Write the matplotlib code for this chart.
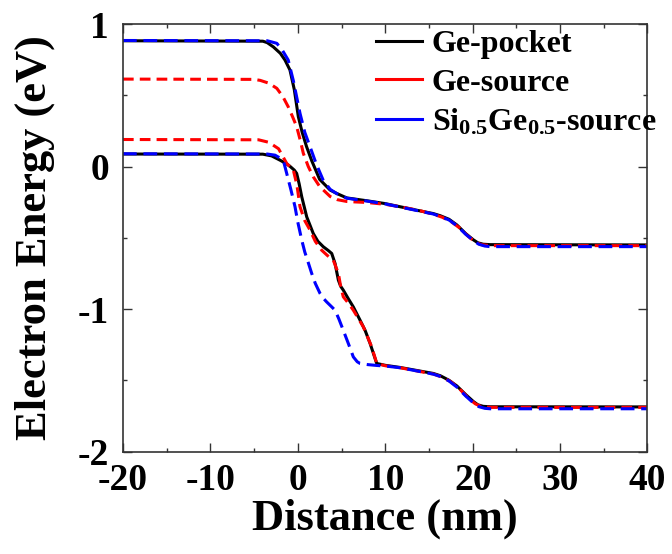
import matplotlib
matplotlib.use('Agg')
import matplotlib.pyplot as plt
from matplotlib.lines import Line2D
from matplotlib.ticker import MultipleLocator

plt.rcParams['font.family'] = ['Liberation Serif', 'DejaVu Serif']
plt.rcParams['font.weight'] = 'bold'
plt.rcParams['mathtext.fontset'] = 'custom'
plt.rcParams['mathtext.bf'] = 'Liberation Serif:bold'
plt.rcParams['mathtext.rm'] = 'Liberation Serif:bold'
plt.rcParams['mathtext.default'] = 'bf'
plt.rcParams['axes.unicode_minus'] = False

# conduction band edges (upper curves)
ec_pocket_x = [-20, -4, -3.5, -2.8, -2, -1.47, -0.9, -0.4, 0.06, 0.5, 1.0, 1.6, 2.5, 3.7, 4.5, 5.6, 7.9,
               10, 11.7, 13.5, 15.5, 16.3, 17.3, 18.2, 19.2, 20.1, 20.6, 21.2, 22, 40]
ec_pocket_y = [0.883, 0.88, 0.87, 0.84, 0.795, 0.748, 0.678, 0.54, 0.35, 0.24, 0.14, 0.04, -0.09, -0.165,
               -0.19, -0.22, -0.24, -0.26, -0.282, -0.305, -0.33, -0.345, -0.37, -0.41, -0.47, -0.515,
               -0.535, -0.545, -0.548, -0.55]

ec_gesrc_x = [-20, -5, -4.3, -3.3, -2.4, -1.7, -1.1, -0.6, -0.13, 0.3, 0.63, 1.2, 1.77, 2.5, 3.7, 4.5,
              5.6, 6.5, 7.9, 10, 12, 14, 15.5, 16.5, 17.5, 18.5, 19.5, 20.3, 21, 22, 40]
ec_gesrc_y = [0.614, 0.612, 0.605, 0.585, 0.549, 0.49, 0.42, 0.35, 0.28, 0.18, 0.093, 0.0, -0.072,
              -0.14, -0.21, -0.232, -0.245, -0.248, -0.252, -0.265, -0.285, -0.31, -0.335, -0.355,
              -0.385, -0.43, -0.49, -0.53, -0.548, -0.555, -0.555]

ec_sige_x = [-20, -3.5, -3.0, -2.4, -1.8, -1.1, -0.5, 0.25, 0.8, 1.4, 2.1, 2.9, 3.7, 4.45, 5.6, 7.9,
             10, 11.7, 13.5, 15.5, 16.3, 17.3, 18.2, 19.2, 20.1, 20.7, 21.4, 22, 40]
ec_sige_y = [0.885, 0.883, 0.875, 0.865, 0.82, 0.748, 0.6, 0.374, 0.24, 0.139, 0.02, -0.095, -0.16,
             -0.19, -0.222, -0.242, -0.262, -0.284, -0.307, -0.333, -0.35, -0.375, -0.415, -0.475,
             -0.52, -0.545, -0.558, -0.562, -0.562]

# valence band edges (lower curves)
ev_pocket_x = [-20, -4, -3, -2.04, -1.3, -0.9, -0.4, -0.13, 0.15, 0.45, 1.02, 1.77, 2.3, 2.92, 3.5,
               3.88, 4.26, 4.64, 4.9, 5.2, 5.8, 6.35, 7.12, 7.7, 8.26, 9.03, 10, 11.7, 13.5, 15.5,
               16.3, 17.3, 18.2, 19.2, 20.1, 20.6, 21.2, 22, 40]
ev_pocket_y = [0.088, 0.087, 0.075, 0.045, 0.02, 0.002, -0.025, -0.048, -0.12, -0.212, -0.353, -0.47,
               -0.525, -0.563, -0.59, -0.61, -0.68, -0.797, -0.84, -0.867, -0.93, -0.985, -1.078,
               -1.15, -1.24, -1.382, -1.395, -1.41, -1.43, -1.452, -1.468, -1.5, -1.54, -1.6, -1.65,
               -1.672, -1.683, -1.686, -1.687]

ev_gesrc_x = [-20, -4.5, -3.3, -2.2, -1.27, -0.51, -0.1, 0.25, 0.8, 1.4, 2.0, 2.73, 3.4, 4.06,
              4.64, 4.9, 5.2, 5.8, 6.35, 7.5, 8.45, 9.03, 10, 11.7, 13.5, 15.5, 16.5, 17.5,
              18.5, 19.5, 20.3, 21, 22, 40]
ev_gesrc_y = [0.19, 0.188, 0.17, 0.125, 0.022, -0.025, -0.13, -0.282, -0.38, -0.446, -0.525,
              -0.587, -0.625, -0.657, -0.75, -0.84, -0.914, -0.96, -1.008, -1.125, -1.265,
              -1.382, -1.398, -1.412, -1.433, -1.456, -1.478, -1.51, -1.56, -1.625, -1.665, -1.685,
              -1.69, -1.69]

ev_sige_x = [-20, -3.5, -2.6, -2.04, -1.6, -1.27, -0.8, -0.32, 0.0, 0.45, 0.8, 1.2, 1.59, 2.0, 2.54,
             3.0, 3.3, 3.8, 4.26, 4.7, 5.2, 5.8, 6.35, 6.8, 7.12, 8.0, 9.03, 10, 11.7, 13.5, 15.5,
             16.3, 17.3, 18.2, 19.2, 20.1, 20.7, 21.4, 22, 40]
ev_sige_y = [0.09, 0.088, 0.08, 0.06, 0.03, -0.048, -0.16, -0.282, -0.39, -0.516, -0.6, -0.675,
             -0.75, -0.82, -0.89, -0.93, -0.95, -0.98, -1.008, -1.07, -1.149, -1.245, -1.336,
             -1.37, -1.382, -1.39, -1.396, -1.40, -1.412, -1.433, -1.457, -1.473, -1.505, -1.548,
             -1.61, -1.66, -1.685, -1.697, -1.70, -1.70]

labels = ['Ge-pocket', 'Ge-source', r'Si$_{0.5}$Ge$_{0.5}$-source']
colors = ['black', 'red', 'blue']

fig = plt.figure(figsize=(6.72, 5.54), dpi=100)
ax = fig.add_axes([0.183, 0.185, 0.7805, 0.7715])

lw = 2.2
ax.plot(ec_pocket_x, ec_pocket_y, color='black', lw=lw)
ax.plot(ev_pocket_x, ev_pocket_y, color='black', lw=lw)
ax.plot(ec_gesrc_x, ec_gesrc_y, color='red', lw=lw, ls=(0, (3.5, 2)))
ax.plot(ev_gesrc_x, ev_gesrc_y, color='red', lw=lw, ls=(0, (3.5, 2)))
ax.plot(ec_sige_x, ec_sige_y, color='blue', lw=lw, ls=(0, (4.5, 2.2)))
ax.plot(ev_sige_x, ev_sige_y, color='blue', lw=lw, ls=(0, (4.5, 2.2)))

ax.set_xlim(-20, 40)
ax.set_ylim(-2, 1)
ax.xaxis.set_major_locator(MultipleLocator(10))
ax.xaxis.set_minor_locator(MultipleLocator(5))
ax.yaxis.set_major_locator(MultipleLocator(1))
ax.yaxis.set_minor_locator(MultipleLocator(0.5))
ax.tick_params(which='both', direction='in', top=True, right=True, width=1.0, colors='#333333',
               labelcolor='black')
ax.tick_params(which='major', length=6.5, labelsize=27)
ax.tick_params(which='minor', length=3)
ax.tick_params(axis='x', pad=8)
ax.tick_params(axis='y', pad=10)
for s in ax.spines.values():
    s.set_linewidth(1.2)
    s.set_color('#333333')

ax.set_xlabel('Distance (nm)', fontsize=32, fontweight='bold', labelpad=1)
ax.set_ylabel('Electron Energy (eV)', fontsize=32, fontweight='bold', labelpad=16)

handles = [Line2D([], [], color=c, lw=lw) for c in colors]
fig.legend(handles, labels, loc='upper left', bbox_to_anchor=(376 / 672, 1 - 30 / 554),
           frameon=False, handlelength=1.45, handletextpad=0.3, labelspacing=0.28,
           borderpad=0, borderaxespad=0, prop={'weight': 'bold', 'size': 23})

fig.savefig('out.png', dpi=100)
